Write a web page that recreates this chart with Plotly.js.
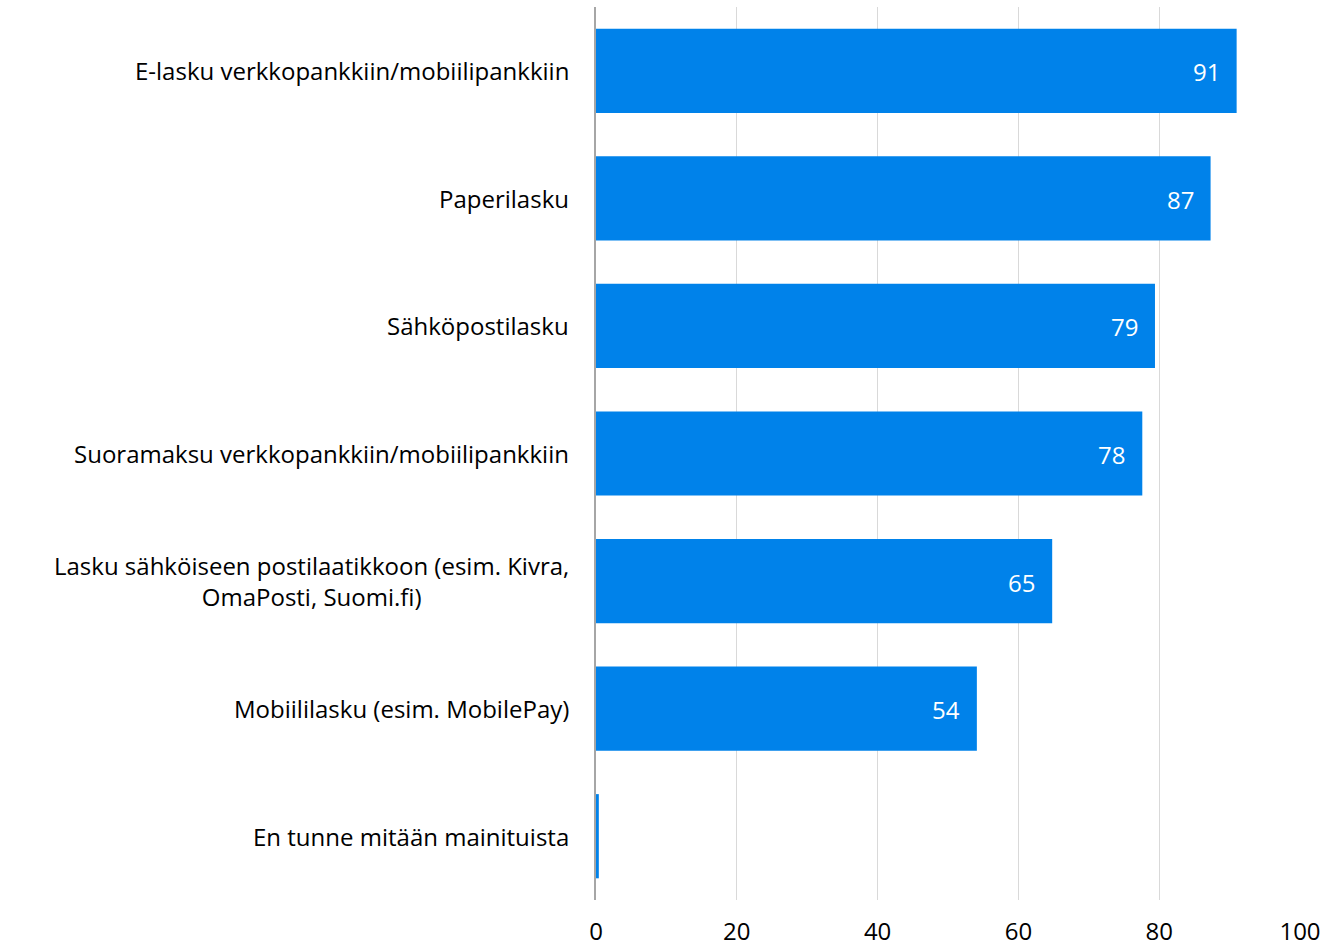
<!DOCTYPE html>
<html>
<head>
<meta charset="utf-8">
<script src="https://cdn.plot.ly/plotly-3.0.1.min.js"></script>
<style>html,body{margin:0;padding:0;background:#fff;}#chart{width:1328px;height:950px;}</style>
</head>
<body>
<div id="chart"></div>
<script>
const categories = [
  "E-lasku verkkopankkiin/mobiilipankkiin",
  "Paperilasku",
  "Sähköpostilasku",
  "Suoramaksu verkkopankkiin/mobiilipankkiin",
  "Lasku sähköiseen postilaatikkoon (esim. Kivra,<br>OmaPosti, Suomi.fi)",
  "Mobiililasku (esim. MobilePay)",
  "En tunne mitään mainituista"
];
const values = [91.0, 87.3, 79.4, 77.6, 64.8, 54.1, 0.4];
const valueLabels = ["91", "87", "79", "78", "65", "54", ""];
const xTicks = [0, 20, 40, 60, 80, 100];

const FONT = "'Open Sans', sans-serif";

const annotations = [];
categories.forEach((c, i) => {
  annotations.push({
    xref: 'paper', yref: 'y', x: 0, y: c, xanchor: 'right', yanchor: 'middle',
    xshift: -25, text: c, showarrow: false, align: 'center',
    font: {family: FONT, size: 24, color: '#000000'}
  });
  if (valueLabels[i]) {
    annotations.push({
      xref: 'x', yref: 'y', x: values[i], y: c, xanchor: 'right', yanchor: 'middle',
      xshift: -15, yshift: -1, text: valueLabels[i], showarrow: false,
      font: {family: FONT, size: 24, color: '#ffffff'}
    });
  }
});

const trace = {
  type: 'bar', orientation: 'h', x: values, y: categories,
  marker: {color: '#0082EA'}, width: 0.66, hoverinfo: 'x+y'
};

const layout = {
  width: 1328, height: 950,
  margin: {l: 596, r: 28, t: 7, b: 50, pad: 0},
  paper_bgcolor: '#ffffff', plot_bgcolor: '#ffffff',
  showlegend: false,
  xaxis: {
    range: [0, 100], tickvals: xTicks, ticktext: xTicks.map(String),
    showgrid: true, gridcolor: '#d9d9d9', gridwidth: 1.3,
    zeroline: false, showline: false, ticks: '', ticklabelstandoff: 15,
    tickfont: {family: FONT, size: 24, color: '#000000'}
  },
  yaxis: {
    type: 'category', autorange: 'reversed', showticklabels: false,
    showgrid: false, zeroline: false, showline: true, linecolor: '#a6a6a6', linewidth: 2,
    ticks: ''
  },
  annotations: annotations
};

Plotly.newPlot('chart', [trace], layout, {displayModeBar: false, staticPlot: true});
</script>
</body>
</html>
